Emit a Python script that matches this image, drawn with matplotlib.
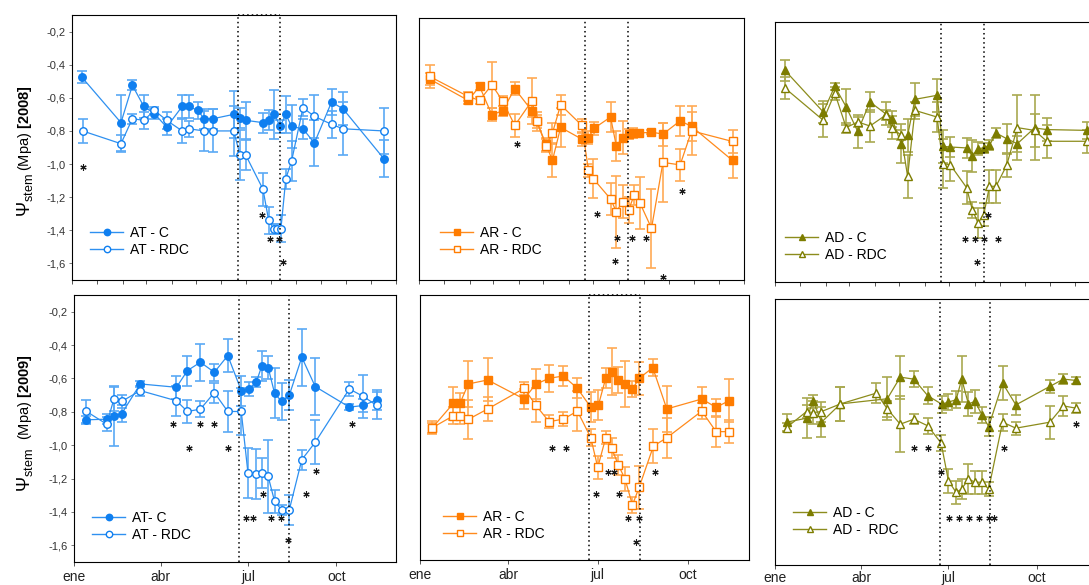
import matplotlib
matplotlib.use("Agg")
import matplotlib.pyplot as plt
from matplotlib.lines import Line2D
from matplotlib.ticker import FuncFormatter

W, H = 1089, 585

plt.rcParams.update({
    "font.family": ["Liberation Sans", "DejaVu Sans"],
    "mathtext.fontset": "custom",
    "mathtext.rm": "Liberation Sans",
    "mathtext.it": "Liberation Sans:italic",
    "mathtext.bf": "Liberation Sans:bold",
    "axes.linewidth": 0.8,
})

# ---- 2008, AT (days from 1 Jan) ----
at08_c_days = [-19, 29, 43, 57, 70, 85, 104, 112, 123, 131, 142, 167, 175, 182, 203, 210, 217, 224, 231, 238, 252, 266, 287, 301, 351]
at08_c_vals = [-0.475, -0.75, -0.525, -0.652, -0.696, -0.777, -0.652, -0.652, -0.676, -0.726, -0.726, -0.70, -0.72, -0.736, -0.75, -0.736, -0.70, -0.773, -0.70, -0.773, -0.787, -0.873, -0.626, -0.666, -0.967]
at08_c_err = [0.035, 0.17, 0.03, 0.07, 0.03, 0.05, 0.07, 0.07, 0.05, 0.06, 0.06, 0.14, 0.06, 0.11, 0.06, 0.06, 0.15, 0.04, 0.11, 0.13, 0.06, 0.14, 0.08, 0.10, 0.11]
at08_r_days = [-18, 29, 43, 57, 70, 85, 104, 112, 131, 142, 167, 175, 182, 203, 210, 216, 220, 225, 231, 238, 252, 266, 287, 301, 351]
at08_r_vals = [-0.80, -0.877, -0.726, -0.736, -0.676, -0.736, -0.80, -0.787, -0.80, -0.80, -0.80, -0.947, -0.947, -1.152, -1.34, -1.39, -1.39, -1.39, -1.088, -0.983, -0.66, -0.712, -0.76, -0.787, -0.80]
at08_r_err = [0.07, 0.05, 0.03, 0.05, 0.02, 0.05, 0.07, 0.05, 0.12, 0.13, 0.15, 0.15, 0.09, 0.10, 0.08, 0.03, 0.03, 0.08, 0.06, 0.12, 0.05, 0.13, 0.08, 0.16, 0.14]
at08_star_days = [-18, 202, 211, 223, 227]
at08_star_vals = [-1.02, -1.305, -1.45, -1.45, -1.59]

# ---- 2008, AR ----
ar08_c_days = [-18, 29, 43, 58, 71, 86, 107, 113, 124, 132, 142, 168, 176, 183, 203, 210, 218, 225, 231, 238, 253, 267, 288, 302, 352]
ar08_c_vals = [-0.473, -0.603, -0.518, -0.691, -0.667, -0.532, -0.667, -0.732, -0.87, -0.970, -0.768, -0.840, -0.830, -0.773, -0.705, -0.881, -0.830, -0.809, -0.803, -0.803, -0.797, -0.809, -0.728, -0.762, -0.970]
ar08_c_err = [0.035, 0.025, 0.02, 0.04, 0.03, 0.04, 0.04, 0.04, 0.04, 0.1, 0.12, 0.04, 0.04, 0.04, 0.09, 0.09, 0.1, 0.03, 0.03, 0.02, 0.01, 0.07, 0.09, 0.09, 0.11]
ar08_r_days = [-18, 29, 43, 58, 71, 86, 107, 113, 124, 132, 142, 168, 176, 182, 203, 210, 218, 225, 232, 239, 253, 267, 288, 302, 352]
ar08_r_vals = [-0.457, -0.579, -0.603, -0.508, -0.605, -0.756, -0.605, -0.732, -0.879, -0.803, -0.630, -0.756, -1.031, -1.082, -1.205, -1.282, -1.221, -1.272, -1.180, -1.231, -1.384, -0.982, -0.997, -0.789, -0.854]
ar08_r_err = [0.07, 0.03, 0.02, 0.14, 0.03, 0.07, 0.14, 0.06, 0.04, 0.06, 0.06, 0.04, 0.04, 0.12, 0.1, 0.22, 0.1, 0.08, 0.06, 0.16, 0.24, 0.24, 0.1, 0.15, 0.07]
ar08_star_days = [89, 186, 211, 229, 246, 208, 267, 290]
ar08_star_vals = [-0.870, -1.298, -1.445, -1.445, -1.445, -1.584, -1.68, -1.156]

# ---- 2008, AD ----
ad08_c_days = [-19, 28, 42, 56, 70, 85, 104, 112, 123, 131, 140, 167, 174, 183, 203, 210, 217, 224, 231, 239, 252, 265, 286, 301, 350]
ad08_c_vals = [-0.397, -0.654, -0.496, -0.623, -0.773, -0.592, -0.664, -0.695, -0.849, -0.797, -0.576, -0.551, -0.865, -0.869, -0.875, -0.925, -0.879, -0.875, -0.859, -0.783, -0.818, -0.849, -0.752, -0.762, -0.767]
ad08_c_err = [0.065, 0.07, 0.02, 0.11, 0.1, 0.06, 0.07, 0.05, 0.12, 0.1, 0.1, 0.1, 0.1, 0.06, 0.06, 0.1, 0.04, 0.03, 0.03, 0.03, 0.09, 0.05, 0.2, 0.07, 0.05]
ad08_r_days = ad08_c_days
ad08_r_vals = [-0.506, -0.705, -0.537, -0.750, -0.715, -0.740, -0.674, -0.750, -0.797, -1.050, -0.644, -0.685, -0.972, -0.978, -1.119, -1.255, -1.337, -1.286, -1.111, -1.111, -0.982, -0.750, -0.767, -0.834, -0.834]
ad08_r_err = [0.07, 0.1, 0.04, 0.03, 0.03, 0.1, 0.03, 0.07, 0.03, 0.13, 0.05, 0.09, 0.15, 0.1, 0.1, 0.05, 0.09, 0.07, 0.1, 0.1, 0.07, 0.2, 0.1, 0.1, 0.07]
ad08_star_days = [201, 213, 224, 242, 216, 229]
ad08_star_vals = [-1.433, -1.433, -1.433, -1.433, -1.577, -1.29]

# ---- 2009, AT ----
at09_c_days = [13, 34, 41.5, 49.5, 69, 106.6, 118, 131.5, 146, 160, 174, 181.7, 189.6, 195.5, 202, 208.7, 216, 224, 237, 251, 286.5, 301, 315]
at09_c_vals = [-0.848, -0.844, -0.824, -0.812, -0.633, -0.653, -0.553, -0.503, -0.563, -0.463, -0.673, -0.663, -0.623, -0.523, -0.535, -0.689, -0.738, -0.70, -0.473, -0.649, -0.772, -0.762, -0.728]
at09_c_err = [0.025, 0.03, 0.18, 0.05, 0.02, 0.07, 0.09, 0.11, 0.05, 0.1, 0.09, 0.04, 0.03, 0.09, 0.07, 0.15, 0.11, 0.09, 0.17, 0.17, 0.02, 0.04, 0.06]
at09_r_days = [13, 34, 41.5, 49.5, 69, 106.6, 118, 131.5, 146, 160, 174, 181, 189, 195.5, 202, 208.7, 216, 224, 237, 251, 286.5, 301, 315]
at09_r_vals = [-0.798, -0.874, -0.724, -0.738, -0.673, -0.734, -0.798, -0.784, -0.685, -0.798, -0.798, -1.167, -1.173, -1.167, -1.187, -1.337, -1.387, -1.387, -1.087, -0.982, -0.663, -0.708, -0.762]
at09_r_err = [0.07, 0.04, 0.07, 0.04, 0.03, 0.09, 0.07, 0.05, 0.06, 0.12, 0.14, 0.15, 0.15, 0.09, 0.22, 0.07, 0.03, 0.09, 0.06, 0.13, 0.04, 0.13, 0.08]
at09_star_days = [103, 131.5, 146, 120, 160, 179, 186, 196.5, 205, 215, 223, 241, 252, 289]
at09_star_vals = [-0.874, -0.874, -0.874, -1.018, -1.018, -1.436, -1.436, -1.29, -1.436, -1.436, -1.57, -1.29, -1.157, -0.874]

# ---- 2009, AR ----
ar09_c_days = [12.6, 34, 40.7, 49.2, 68.9, 106, 117.8, 131.4, 146, 160.3, 173.9, 181.7, 189.1, 195.2, 202, 208.8, 216.3, 223.1, 237, 251.3, 286.9, 301.5, 314.8]
ar09_c_vals = [-0.901, -0.754, -0.754, -0.637, -0.613, -0.728, -0.639, -0.603, -0.589, -0.664, -0.778, -0.764, -0.603, -0.563, -0.613, -0.639, -0.668, -0.603, -0.539, -0.788, -0.728, -0.778, -0.738]
ar09_c_err = [0.03, 0.1, 0.06, 0.14, 0.13, 0.06, 0.09, 0.08, 0.06, 0.06, 0.09, 0.09, 0.06, 0.14, 0.08, 0.14, 0.05, 0.1, 0.05, 0.14, 0.07, 0.05, 0.13]
ar09_r_days = [12.6, 34, 40.7, 49.2, 68.9, 106, 117.8, 131.4, 146, 160.3, 173.9, 181, 189.1, 195.2, 202, 208.8, 216.3, 223.1, 237.7, 251.3, 286.9, 301.5, 314.8]
ar09_r_vals = [-0.901, -0.829, -0.829, -0.851, -0.788, -0.664, -0.764, -0.865, -0.849, -0.801, -0.962, -1.141, -0.962, -1.026, -1.127, -1.211, -1.368, -1.262, -1.012, -0.962, -0.801, -0.925, -0.925]
ar09_r_err = [0.04, 0.05, 0.05, 0.12, 0.07, 0.04, 0.1, 0.04, 0.04, 0.12, 0.05, 0.07, 0.04, 0.06, 0.06, 0.07, 0.05, 0.13, 0.1, 0.12, 0.05, 0.09, 0.07]
ar09_star_days = [134, 148.4, 179.3, 191.9, 198, 203, 212.2, 223.1, 220, 239.4]
ar09_star_vals = [-1.026, -1.026, -1.302, -1.167, -1.167, -1.302, -1.449, -1.449, -1.590, -1.167]

# ---- 2009, AD ----
ad09_c_days = [12.1, 32.9, 39.9, 48.5, 68.3, 117.2, 130.7, 144.9, 159.5, 174.1, 181, 189, 194.9, 201.8, 208.7, 216, 223, 237.5, 251.4, 286.8, 301, 314.5]
ad09_c_vals = [-0.841, -0.817, -0.716, -0.841, -0.731, -0.700, -0.570, -0.582, -0.682, -0.733, -0.720, -0.706, -0.582, -0.731, -0.716, -0.797, -0.867, -0.606, -0.737, -0.626, -0.582, -0.590]
ad09_c_err = [0.05, 0.12, 0.04, 0.09, 0.1, 0.13, 0.13, 0.05, 0.05, 0.05, 0.05, 0.05, 0.14, 0.07, 0.07, 0.05, 0.06, 0.1, 0.06, 0.04, 0.03, 0.02]
ad09_r_days = [12.1, 32.9, 39.9, 48.5, 68.3, 105.8, 117.2, 130.7, 144.9, 159.5, 173.4, 181, 189, 194.9, 201.8, 208.7, 216, 223, 237.5, 251.4, 286.8, 301, 314.5]
ad09_r_vals = [-0.873, -0.777, -0.783, -0.777, -0.731, -0.666, -0.761, -0.853, -0.823, -0.863, -0.967, -1.194, -1.263, -1.243, -1.182, -1.202, -1.202, -1.243, -0.841, -0.877, -0.841, -0.743, -0.757]
ad09_r_err = [0.03, 0.04, 0.07, 0.06, 0.1, 0.06, 0.05, 0.17, 0.03, 0.05, 0.05, 0.07, 0.07, 0.06, 0.09, 0.07, 0.07, 0.04, 0.05, 0.04, 0.1, 0.06, 0.03]
ad09_star_days = [144.6, 159.5, 173.4, 181.3, 191.7, 202.1, 212.6, 223.6, 228.8, 239.3, 314.5]
ad09_star_vals = [-0.998, -0.998, -1.138, -1.419, -1.419, -1.419, -1.419, -1.419, -1.419, -0.998, -0.853]

# deficit-irrigation window (dotted lines)
stress_start, stress_end = 172, 224

month_ticks_2008 = [-31, 0, 31, 60, 91, 121, 152, 182, 213, 244, 274, 305, 335, 366]
season_ticks = [0, 90, 181, 273]
season_labels = ["ene", "abr", "jul", "oct"]
y_ticks = [-0.2, -0.4, -0.6, -0.8, -1.0, -1.2, -1.4, -1.6]

# (marker colour, line colour, error-bar colour)
COLORS = {
    "AT": ("#0f7ff0", "#2e90f0", "#5aa9f5"),
    "AR": ("#ff7c00", "#ff8a1c", "#ffaa55"),
    "AD": ("#7d7d00", "#8c8c1c", "#a9a950"),
}
MARKERS = {"AT": "o", "AR": "s", "AD": "^"}


def px_rect(l, t, r, b):
    return [l / W, 1 - b / H, (r - l) / W, (b - t) / H]


def draw_panel(fig, rect, key, c, r, stars, labels, year08, show_y, leg_xy,
               dotted_top=False, xpad=3):
    ax = fig.add_axes(px_rect(*rect))
    mcol, lcol, ecol = COLORS[key]
    mk = MARKERS[key]
    ms = 6.2 if mk == "^" else 5.4
    for (days, vals, err), filled in ((c, True), (r, False)):
        ax.errorbar(days, vals, yerr=err, fmt="none", ecolor=ecol,
                    elinewidth=1.2, capsize=3.6, capthick=1.2, zorder=2)
        ax.plot(days, vals, color=lcol, lw=0.9, zorder=3)
        ax.plot(days, vals, ls="none", marker=mk, ms=ms,
                mfc=mcol if filled else "white", mec=mcol, mew=1.0, zorder=4)
    ax.plot(stars[0], stars[1], ls="none", marker=(6, 2, 0), ms=4.5,
            mew=0.8, color="#1a1a1a", zorder=6)
    dots = (0, (1, 2))
    for d in (stress_start, stress_end):
        ax.axvline(d, color="k", lw=1.1, ls=dots, zorder=5)
    if dotted_top:
        ax.plot([stress_start, stress_end], [-0.1, -0.1], color="k", lw=1.1,
                ls=dots, zorder=5, clip_on=False)

    ax.set_ylim(-1.7, -0.1)
    if year08:
        ax.set_xlim(-31, 366)
        ax.set_xticks(month_ticks_2008)
        ax.set_xticklabels([])
    else:
        ax.set_xlim(0, 335)
        ax.set_xticks(season_ticks)
        ax.set_xticklabels(season_labels, fontsize=10, color="#222222")
    ax.tick_params(axis="x", direction="out", length=3, width=0.7,
                   color="#555555", pad=xpad)
    if show_y:
        ax.set_yticks(y_ticks)
        ax.yaxis.set_major_formatter(
            FuncFormatter(lambda v, p: f"{v:.1f}".replace(".", ",")))
        ax.tick_params(axis="y", direction="out", length=2.5, width=0.7,
                       color="#777777", labelsize=8, labelcolor="#333333", pad=2)
    else:
        ax.set_yticks([])

    handles = [
        Line2D([0], [0], color=lcol, lw=1.0, marker=mk, ms=4.6,
               mfc=mcol, mec=mcol, mew=1.0),
        Line2D([0], [0], color=lcol, lw=1.0, marker=mk, ms=4.6,
               mfc="white", mec=mcol, mew=1.0),
    ]
    ax.legend(handles, labels, loc="upper left",
              bbox_to_anchor=(leg_xy[0] / W, 1 - leg_xy[1] / H),
              bbox_transform=fig.transFigure, frameon=False, fontsize=10,
              borderpad=0, borderaxespad=0, handlelength=2.4,
              handletextpad=0.5, labelspacing=0.2)
    return ax


fig = plt.figure(figsize=(W / 100, H / 100), dpi=100)

draw_panel(fig, (72, 15, 396, 280), "AT",
           (at08_c_days, at08_c_vals, at08_c_err),
           (at08_r_days, at08_r_vals, at08_r_err),
           (at08_star_days, at08_star_vals),
           ["AT - C", "AT - RDC"], True, True, (90, 226), dotted_top=True)
draw_panel(fig, (419, 18, 744, 280), "AR",
           (ar08_c_days, ar08_c_vals, ar08_c_err),
           (ar08_r_days, ar08_r_vals, ar08_r_err),
           (ar08_star_days, ar08_star_vals),
           ["AR - C", "AR - RDC"], True, False, (440, 226))
draw_panel(fig, (775, 22, 1100, 282), "AD",
           (ad08_c_days, ad08_c_vals, ad08_c_err),
           (ad08_r_days, ad08_r_vals, ad08_r_err),
           (ad08_star_days, ad08_star_vals),
           ["AD - C", "AD - RDC"], True, False, (785, 231))
draw_panel(fig, (74, 295, 396, 562), "AT",
           (at09_c_days, at09_c_vals, at09_c_err),
           (at09_r_days, at09_r_vals, at09_r_err),
           (at09_star_days, at09_star_vals),
           ["AT- C", "AT - RDC"], False, True, (92, 511))
draw_panel(fig, (420, 295, 749, 560), "AR",
           (ar09_c_days, ar09_c_vals, ar09_c_err),
           (ar09_r_days, ar09_r_vals, ar09_r_err),
           (ar09_star_days, ar09_star_vals),
           ["AR - C", "AR - RDC"], False, False, (443, 510), dotted_top=True)
draw_panel(fig, (775, 299, 1096, 565), "AD",
           (ad09_c_days, ad09_c_vals, ad09_c_err),
           (ad09_r_days, ad09_r_vals, ad09_r_err),
           (ad09_star_days, ad09_star_vals),
           ["AD - C", "AD -  RDC"], False, False, (793, 506), xpad=1)

# y-axis labels
for psi_bottom, rest_top, year in ((217, 85, "2008"), (492, 354, "2009")):
    fig.text(25 / W, 1 - psi_bottom / H, r"$\Psi_{\mathrm{stem}}$", rotation=90,
             ha="center", va="bottom", fontsize=13)
    fig.text(25 / W, 1 - rest_top / H, r"(Mpa) $\mathbf{[" + year + "]}$",
             rotation=90, ha="center", va="top", fontsize=10.5)

fig.savefig("out.png", dpi=100)
